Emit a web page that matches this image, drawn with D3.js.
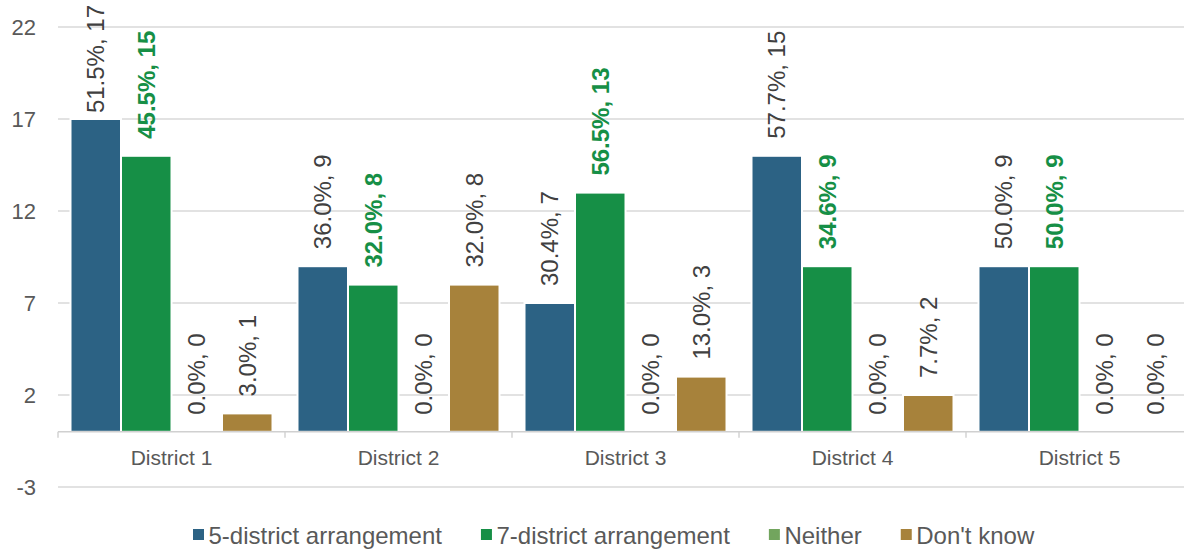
<!DOCTYPE html>
<html>
<head>
<meta charset="utf-8">
<script src="https://cdn.jsdelivr.net/npm/d3@7"></script>
<style>
  html, body { margin: 0; padding: 0; background: #fff; }
  svg { display: block; font-family: "Liberation Sans", Arial, sans-serif; }
</style>
</head>
<body>
<svg id="chart" width="1184" height="550"></svg>
<script>
// Survey responses per district: counts and share of respondents
const districts = ["District 1", "District 2", "District 3", "District 4", "District 5"];
const seriesNames = ["5-district arrangement", "7-district arrangement", "Neither", "Don't know"];
const fiveDistrictCounts = [17, 9, 7, 15, 9];
const fiveDistrictPct = [51.5, 36.0, 30.4, 57.7, 50.0];
const sevenDistrictCounts = [15, 8, 13, 9, 9];
const sevenDistrictPct = [45.5, 32.0, 56.5, 34.6, 50.0];
const neitherCounts = [0, 0, 0, 0, 0];
const neitherPct = [0.0, 0.0, 0.0, 0.0, 0.0];
const dontKnowCounts = [1, 8, 3, 2, 0];
const dontKnowPct = [3.0, 32.0, 13.0, 7.7, 0.0];
const yTicks = [-3, 2, 7, 12, 17, 22];
const seriesColors = ["#2C6284", "#168F46", "#72A55E", "#A7823B"];

const counts = [fiveDistrictCounts, sevenDistrictCounts, neitherCounts, dontKnowCounts];
const pcts = [fiveDistrictPct, sevenDistrictPct, neitherPct, dontKnowPct];

const rows = [];
districts.forEach((d, i) => {
  seriesNames.forEach((s, j) => {
    rows.push({ district: d, series: s, si: j, value: counts[j][i], pct: pcts[j][i] });
  });
});

const svg = d3.select("#chart");
const x0 = d3.scaleBand().domain(districts).range([58, 1193]).paddingInner(0).paddingOuter(0);
const x1 = d3.scaleBand().domain(seriesNames).range([12.5, x0.bandwidth() - 12.5]).padding(0);
const y = d3.scaleLinear().domain([-3, 22]).range([487, 27]);

// horizontal gridlines
svg.append("g").selectAll("line").data(yTicks).join("line")
  .attr("x1", 58).attr("x2", 1184)
  .attr("y1", d => y(d)).attr("y2", d => y(d))
  .attr("stroke", "#d9d9d9").attr("stroke-width", 1.4);

// value axis labels
const yAxis = svg.append("g").attr("transform", "translate(36,0)")
  .call(d3.axisLeft(y).tickValues(yTicks).tickSize(0).tickPadding(0).tickFormat(d => String(d)));
yAxis.select(".domain").remove();
yAxis.selectAll("text").attr("fill", "#595959").style("font-size", "22px")
  .style("font-family", "'Liberation Sans', Arial, sans-serif").attr("dy", "0.36em");

// bars
svg.append("g").selectAll("rect").data(rows.filter(r => r.value > 0)).join("rect")
  .attr("x", d => x0(d.district) + x1(d.series))
  .attr("width", x1.bandwidth())
  .attr("y", d => y(d.value))
  .attr("height", d => y(0) - y(d.value))
  .attr("fill", d => seriesColors[d.si])
  .attr("stroke", "#fff").attr("stroke-width", 2);

// category axis with tick marks between groups
const xAxis = svg.append("g").attr("transform", `translate(0,${y(0)})`)
  .call(d3.axisBottom(x0).tickSize(0).tickPadding(0));
xAxis.select(".domain").remove();
xAxis.selectAll("text").attr("fill", "#595959").style("font-size", "21px")
  .style("font-family", "'Liberation Sans', Arial, sans-serif").attr("y", 33).attr("dy", 0);
xAxis.append("line").attr("x1", 58).attr("x2", 1184).attr("y1", 0).attr("y2", 0)
  .attr("stroke", "#d0d0d0").attr("stroke-width", 1.4);
const boundaries = districts.map(d => x0(d)).concat([x0.range()[1]]);
xAxis.selectAll("line.tick-mark").data(boundaries).join("line").attr("class", "tick-mark")
  .attr("x1", d => d).attr("x2", d => d).attr("y1", 0).attr("y2", 6)
  .attr("stroke", "#d0d0d0").attr("stroke-width", 1.4);

// data labels: "share%, count", rotated, kept inside the chart area
const labels = svg.append("g").selectAll("text").data(rows).join("text")
  .text(d => `${d.pct.toFixed(1)}%, ${d.value}`)
  .attr("fill", d => d.si === 1 ? "#168F46" : "#404040")
  .style("font-weight", d => d.si === 1 ? "bold" : "normal")
  .style("font-size", "24px")
  .attr("dominant-baseline", "central")
  .attr("text-anchor", "start");
labels.each(function(d) {
  const len = this.getComputedTextLength();
  let base = y(d.value) - 17;
  if (base - len < 5) base = 5 + len;
  const cx = x0(d.district) + x1(d.series) + x1.bandwidth() / 2;
  d3.select(this).attr("transform", `translate(${cx},${base}) rotate(-90)`);
});

// legend
const legend = svg.append("g");
let lx = 193;
seriesNames.forEach((s, i) => {
  legend.append("rect").attr("x", lx).attr("y", 529).attr("width", 11).attr("height", 11)
    .attr("fill", seriesColors[i]);
  const t = legend.append("text").attr("x", lx + 15.5).attr("y", 544)
    .attr("fill", "#595959").style("font-size", "24px").text(s);
  lx += 15.5 + t.node().getComputedTextLength() + 39;
});
</script>
</body>
</html>
